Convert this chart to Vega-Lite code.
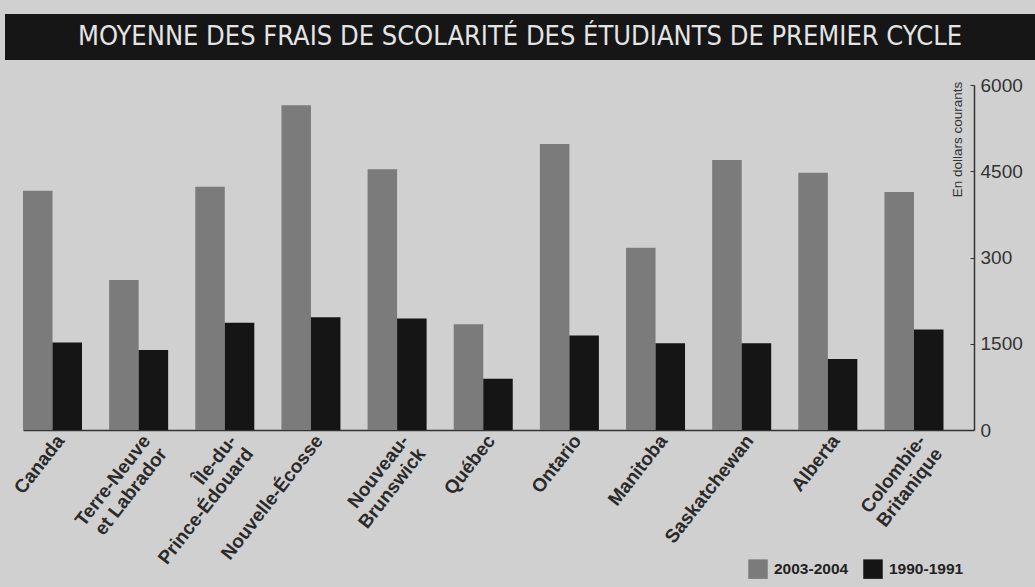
{
  "$schema": "https://vega.github.io/schema/vega-lite/v6.json",
  "background": "#d0d0d0",
  "padding": {"left": 5, "top": 14, "right": 0, "bottom": 70},
  "bounds": "flush",
  "spacing": 25,
  "config": {"view": {"stroke": null}},
  "datasets": {
    "titre": [{"t": "MOYENNE DES FRAIS DE SCOLARITÉ DES ÉTUDIANTS DE PREMIER CYCLE"}],
    "frais": [
      {"prov": "Canada", "periode": "2003-2004", "frais": 4160},
      {"prov": "Canada", "periode": "1990-1991", "frais": 1520},
      {"prov": "Terre-Neuve et Labrador", "periode": "2003-2004", "frais": 2610},
      {"prov": "Terre-Neuve et Labrador", "periode": "1990-1991", "frais": 1390},
      {"prov": "Île-du-Prince-Édouard", "periode": "2003-2004", "frais": 4230},
      {"prov": "Île-du-Prince-Édouard", "periode": "1990-1991", "frais": 1865},
      {"prov": "Nouvelle-Écosse", "periode": "2003-2004", "frais": 5650},
      {"prov": "Nouvelle-Écosse", "periode": "1990-1991", "frais": 1960},
      {"prov": "Nouveau-Brunswick", "periode": "2003-2004", "frais": 4535},
      {"prov": "Nouveau-Brunswick", "periode": "1990-1991", "frais": 1940},
      {"prov": "Québec", "periode": "2003-2004", "frais": 1840},
      {"prov": "Québec", "periode": "1990-1991", "frais": 890},
      {"prov": "Ontario", "periode": "2003-2004", "frais": 4975},
      {"prov": "Ontario", "periode": "1990-1991", "frais": 1645},
      {"prov": "Manitoba", "periode": "2003-2004", "frais": 3170},
      {"prov": "Manitoba", "periode": "1990-1991", "frais": 1510},
      {"prov": "Saskatchewan", "periode": "2003-2004", "frais": 4695},
      {"prov": "Saskatchewan", "periode": "1990-1991", "frais": 1510},
      {"prov": "Alberta", "periode": "2003-2004", "frais": 4475},
      {"prov": "Alberta", "periode": "1990-1991", "frais": 1235},
      {"prov": "Colombie-Britanique", "periode": "2003-2004", "frais": 4140},
      {"prov": "Colombie-Britanique", "periode": "1990-1991", "frais": 1750}
    ]
  },
  "vconcat": [
    {
      "width": 1030,
      "height": 46,
      "view": {"fill": "#161616", "stroke": null},
      "data": {"name": "titre"},
      "mark": {"type": "text", "font": "DejaVu Sans Condensed", "fontSize": 27, "color": "#e4e4e4", "align": "center", "baseline": "middle"},
      "encoding": {"text": {"field": "t"}}
    },
    {
      "width": 969,
      "height": 345,
      "data": {"name": "frais"},
      "mark": {"type": "bar"},
      "encoding": {
        "x": {
          "field": "prov", "type": "nominal", "sort": null,
          "scale": {"paddingInner": 0.315, "paddingOuter": 0.2815, "align": 0.371},
          "axis": {
            "title": null, "ticks": false, "domainColor": "#333", "domainWidth": 1.5, "domainDash": [0, 18, 1200, 0],
            "labelAngle": -52, "labelFont": "Liberation Sans", "labelFontWeight": "bold",
            "labelFontSize": 19, "labelColor": "#2a2a2a", "labelPadding": 7, "labelOffset": 8,
            "labelAlign": "right", "labelBaseline": "middle", "labelOverlap": false, "labelLineHeight": 21,
            "labelExpr": "datum.label == 'Terre-Neuve et Labrador' ? ['Terre-Neuve', 'et Labrador'] : datum.label == 'Île-du-Prince-Édouard' ? ['Île-du-', 'Prince-Édouard'] : datum.label == 'Nouveau-Brunswick' ? ['Nouveau-', 'Brunswick'] : datum.label == 'Colombie-Britanique' ? ['Colombie-', 'Britanique'] : datum.label"
          }
        },
        "xOffset": {"field": "periode", "type": "nominal", "scale": {"domain": ["2003-2004", "1990-1991"]}},
        "y": {
          "field": "frais", "type": "quantitative",
          "scale": {"domain": [0, 6000], "nice": false},
          "axis": {
            "orient": "right", "values": [0, 1500, 3000, 4500, 6000], "format": "d", "grid": false,
            "domainColor": "#333", "domainWidth": 1.5, "tickColor": "#333", "tickSize": -4,
            "labelFont": "Liberation Sans", "labelFontSize": 19, "labelColor": "#333", "labelPadding": 10,
            "labelExpr": "datum.value == 3000 ? '300' : datum.label",
            "title": "En dollars courants", "titleFont": "Liberation Sans", "titleFontSize": 13.5,
            "titleFontWeight": "normal", "titleColor": "#333", "titleAngle": -90,
            "titleX": -17, "titleY": 54, "titleAlign": "center", "titleBaseline": "middle"
          }
        },
        "color": {
          "field": "periode", "type": "nominal",
          "scale": {"domain": ["2003-2004", "1990-1991"], "range": ["#7b7b7b", "#151515"]},
          "legend": {
            "title": null, "orient": "none", "direction": "horizontal", "legendX": 743, "legendY": 545,
            "symbolType": "square", "symbolSize": 380, "symbolStrokeWidth": 0, "symbolOpacity": 1,
            "labelFont": "Liberation Sans", "labelFontWeight": "bold", "labelFontSize": 15.5, "labelColor": "#222",
            "labelOffset": 6, "columnPadding": 14
          }
        }
      }
    }
  ]
}
